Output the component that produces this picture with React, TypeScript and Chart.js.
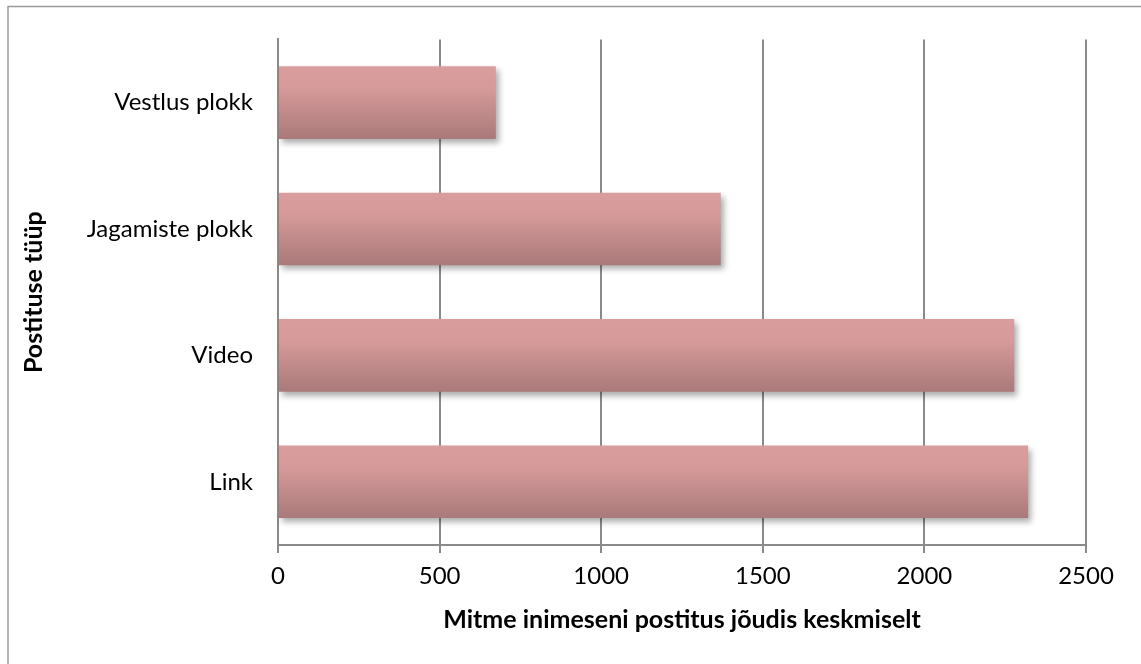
import React, { useEffect, useRef } from "react";
import { Chart, registerables } from "chart.js";

Chart.register(...registerables);

const categories = ["Vestlus plokk", "Jagamiste plokk", "Video", "Link"];
const values = [674, 1370, 2278, 2321];
const xTicks = [0, 500, 1000, 1500, 2000, 2500];
const xTitle = "Mitme inimeseni postitus jõudis keskmiselt";
const yTitle = "Postituse tüüp";

const FONT = "Lato, 'Open Sans', sans-serif";
const GRID = "#8a8a8a";

const barStyle = {
  id: "barStyle",
  beforeDatasetDraw(chart: any) {
    const ctx = chart.ctx;
    const meta = chart.getDatasetMeta(0);
    meta.data.forEach((el: any) => {
      const top = el.y - el.height / 2;
      const bottom = el.y + el.height / 2;
      const g = ctx.createLinearGradient(0, top, 0, bottom);
      g.addColorStop(0, "#da9d9d");
      g.addColorStop(0.3, "#d69a9a");
      g.addColorStop(1, "#aa7979");
      el.options = Object.assign({}, el.options, { backgroundColor: g });
    });
    ctx.save();
    ctx.shadowColor = "rgba(0,0,0,0.32)";
    ctx.shadowBlur = 6;
    ctx.shadowOffsetX = 3;
    ctx.shadowOffsetY = 4;
  },
  afterDatasetDraw(chart: any) {
    chart.ctx.restore();
  },
};

const frame = {
  id: "frame",
  beforeDraw(chart: any) {
    const ctx = chart.ctx;
    ctx.save();
    ctx.fillStyle = "#ffffff";
    ctx.fillRect(0, 0, chart.width, chart.height);
    ctx.strokeStyle = "#9a9a9a";
    ctx.lineWidth = 1.5;
    ctx.strokeRect(8, 6.5, chart.width + 20, chart.height + 20);
    ctx.restore();
  },
};

export default function App() {
  const ref = useRef<HTMLCanvasElement | null>(null);
  useEffect(() => {
    if (!ref.current) return;
    const chart = new Chart(ref.current, {
      type: "bar",
      data: {
        labels: categories,
        datasets: [
          {
            data: values,
            backgroundColor: "#d49898",
            borderWidth: 0,
            categoryPercentage: 1,
            barPercentage: 0.574,
          },
        ],
      },
      options: {
        indexAxis: "y",
        animation: false,
        responsive: false,
        devicePixelRatio: 1,
        layout: { padding: { left: 0, top: 36, right: 55, bottom: 0 } },
        plugins: {
          legend: { display: false },
          tooltip: { enabled: false },
        },
        scales: {
          x: {
            min: 0,
            max: 2500,
            afterFit: (s: any) => {
              s.height = 119;
            },
            afterBuildTicks: (s: any) => {
              s.ticks = xTicks.map((v) => ({ value: v }));
            },
            grid: {
              color: GRID,
              lineWidth: 2,
              tickLength: 8,
              drawTicks: true,
            },
            border: { display: true, color: GRID, width: 2 },
            ticks: {
              color: "#000",
              padding: 9,
              font: { family: FONT, size: 24 },
              callback: (v: any) => String(v),
            },
            title: {
              display: true,
              text: xTitle,
              color: "#000",
              font: { family: FONT, size: 25, weight: "bold" },
              padding: { top: 0, bottom: 29 },
            },
          },
          y: {
            afterFit: (s: any) => {
              s.width = 278;
            },
            grid: { display: false, drawTicks: false },
            border: { display: true, color: GRID, width: 2 },
            ticks: {
              color: "#000",
              padding: 25,
              font: { family: FONT, size: 24 },
            },
            title: {
              display: true,
              text: yTitle,
              color: "#000",
              font: { family: FONT, size: 25, weight: "bold" },
              padding: { top: 19, bottom: 0 },
            },
          },
        },
      },
      plugins: [frame, barStyle],
    });
    return () => chart.destroy();
  }, []);
  return (
    <div style={{ position: "absolute", left: 0, top: 0, width: 1141, height: 664 }}>
      <canvas ref={ref} width={1141} height={664} style={{ display: "block" }} />
    </div>
  );
}
